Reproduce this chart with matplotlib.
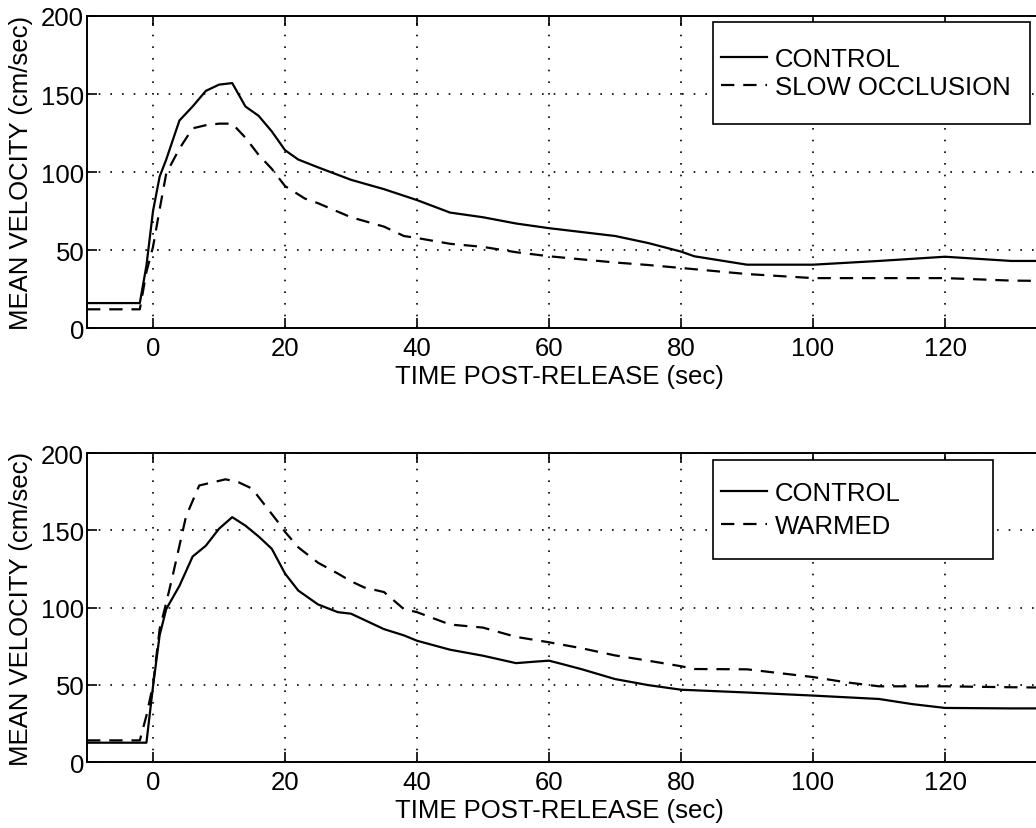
import numpy as np
import matplotlib.pyplot as plt
from matplotlib.patches import Rectangle

# top panel: control vs slow occlusion
t_ctrl_a = [-10, -2, -1, 0, 1, 2, 4, 6, 8, 10, 12, 14, 16, 18, 20, 22, 25, 30, 35, 40,
            45, 50, 55, 60, 65, 70, 75, 80, 82, 90, 100, 110, 120, 130, 140]
v_ctrl_a = [16, 16, 40, 75, 97, 108, 133, 142, 152, 156, 157, 142, 136, 126, 114, 108,
            103, 95, 89, 82, 74, 71, 67, 64, 61.5, 59, 54.5, 49, 46, 40.6, 40.6, 43, 45.7, 43, 43]
t_slow = [-10, -2, -1, 0, 1, 2, 4, 6, 8, 10, 12, 14, 16, 18, 20, 23, 25, 30, 35, 38, 40,
          45, 50, 55, 60, 65, 70, 75, 80, 90, 100, 110, 120, 130, 140]
v_slow = [12, 12, 36, 52, 76, 99, 115, 128, 130, 131, 131, 122, 111, 102, 91, 83, 80,
          71, 65, 59, 57.7, 54, 52, 48.6, 46, 44, 42, 40.4, 38.5, 34.6, 32, 32, 32, 30.4, 30]

# bottom panel: control vs warmed
t_ctrl_b = [-10, -1, 0, 1, 2, 4, 6, 8, 10, 12, 14, 16, 18, 20, 22, 25, 28, 30, 32, 35, 38,
            40, 45, 50, 55, 58, 60, 62, 65, 70, 75, 80, 90, 100, 110, 115, 120, 130, 140]
v_ctrl_b = [12.5, 12.5, 49, 82, 99, 114, 133, 140, 151, 158.5, 153, 146, 138, 122, 111, 102,
            97, 96, 92, 86, 82, 78.5, 72.7, 68.8, 64, 65, 65.6, 63.4, 60, 53.7, 49.8, 46.8,
            45, 43, 40.8, 37.5, 35, 34.7, 34.7]
t_warm = [-10, -2, -1, 0, 1, 2, 3, 4, 5, 7, 9, 11, 13, 15, 17, 19, 20, 22, 25, 28, 30, 32,
          35, 38, 40, 45, 50, 55, 60, 65, 70, 75, 80, 82, 90, 100, 105, 110, 120, 130, 140]
v_warm = [14, 14, 30, 50, 86, 103, 121, 140, 159, 179, 181, 183, 181, 177, 166, 155, 149,
          139, 129, 122, 117, 113, 110, 99, 97, 89, 87, 81, 77.5, 73.6, 69, 65.6, 62, 60.2,
          60, 55, 51.6, 49, 49, 48.4, 48]

xticks = [0, 20, 40, 60, 80, 100, 120]
yticks = [0, 50, 100, 150, 200]

plt.rcParams['font.family'] = ['Liberation Sans', 'DejaVu Sans']
FS = 18.5
W, H = 1036, 829

fig = plt.figure(figsize=(10.36, 8.29), dpi=100)
ax1 = fig.add_axes([0.084, 0.6031, 0.9556, 0.3764])
ax2 = fig.add_axes([0.084, 0.0796, 0.9556, 0.3727])

# (axes, series..., name, legend anchor px, legend box px, labelspacing)
panels = [
    (ax1, t_ctrl_a, v_ctrl_a, t_slow, v_slow, 'SLOW OCCLUSION',
     (721, 74), (713, 23, 1030, 125), 0.12),
    (ax2, t_ctrl_b, v_ctrl_b, t_warm, v_warm, 'WARMED',
     (721, 510.5), (713, 461, 993, 560), 0.35),
]

for ax, t1, v1, t2, v2, name, anchor, box, lsp in panels:
    l1, = ax.plot(t1, v1, color='black', lw=1.6, label='CONTROL')
    l2, = ax.plot(t2, v2, color='black', lw=1.6, dashes=(6, 4), label=name)
    ax.set_xlim(-10, 140)
    ax.set_ylim(0, 200)
    ax.set_xticks(xticks)
    ax.set_yticks(yticks)
    ax.grid(True, color='black', linestyle=(0, (1, 6)), lw=1.2)
    ax.tick_params(direction='in', top=True, right=True, length=7, width=1.2,
                   labelsize=FS)
    ax.tick_params(axis='x', pad=6)
    ax.tick_params(axis='y', pad=2)
    for s in ax.spines.values():
        s.set_linewidth(1.4)
    ax.set_xlabel('TIME POST-RELEASE (sec)', fontsize=FS)
    ax.xaxis.set_label_coords(0.477, -0.116)
    ax.set_ylabel('MEAN VELOCITY (cm/sec)', fontsize=FS)
    ax.yaxis.set_label_coords(-0.0545, 0.5)

    x0, y0, x1, y1 = box
    fig.add_artist(Rectangle((x0 / W, 1 - y1 / H), (x1 - x0) / W, (y1 - y0) / H,
                             transform=fig.transFigure, facecolor='white',
                             edgecolor='black', lw=1.2, zorder=3))
    leg = fig.legend(handles=[l1, l2], loc='center left',
                     bbox_to_anchor=(anchor[0] / W, 1 - anchor[1] / H),
                     fontsize=FS, frameon=False, borderpad=0, borderaxespad=0,
                     handlelength=1.8, handletextpad=0.3, labelspacing=lsp)
    leg.set_zorder(5)

fig.savefig('out.png', dpi=100)
